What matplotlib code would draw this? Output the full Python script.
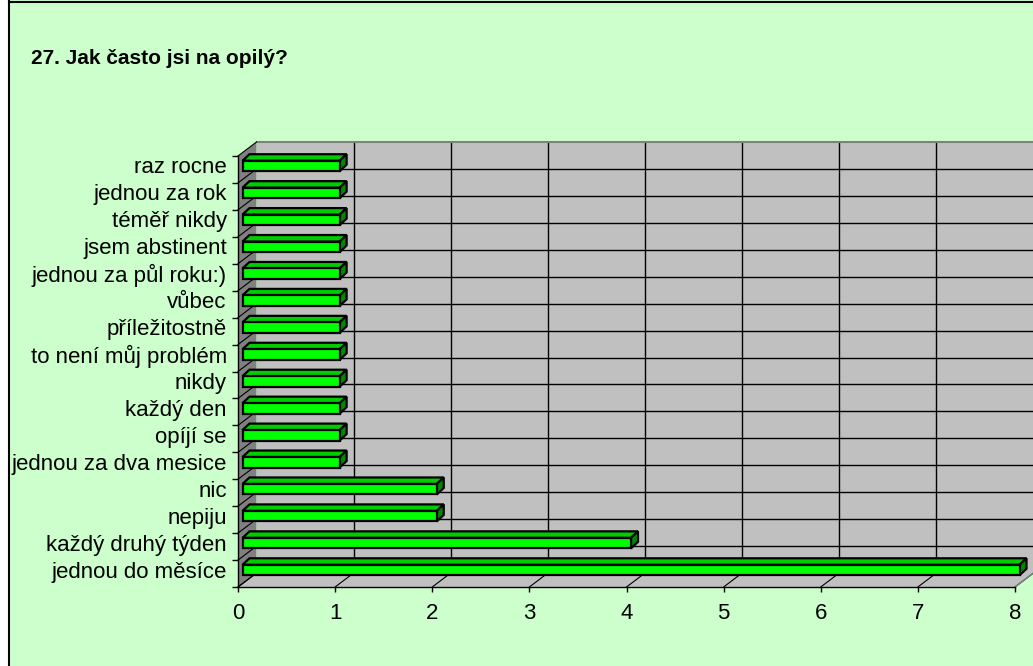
import matplotlib
matplotlib.use('Agg')
import matplotlib.pyplot as plt
import matplotlib.transforms as mtransforms
from matplotlib.patches import Polygon, Rectangle
import numpy as np

plt.rcParams['font.family'] = ['Liberation Sans', 'DejaVu Sans']

# categories listed bottom to top
categories = ['jednou do měsíce', 'každý druhý týden', 'nepiju', 'nic',
              'jednou za dva mesice', 'opíjí se', 'každý den', 'nikdy',
              'to není můj problém', 'příležitostně', 'vůbec',
              'jednou za půl roku:)', 'jsem abstinent', 'téměř nikdy',
              'jednou za rok', 'raz rocne']
values = [8, 4, 2, 2, 1, 1, 1, 1, 1, 1, 1, 1, 1, 1, 1, 1]
xticks = [0, 1, 2, 3, 4, 5, 6, 7, 8]
title = '27. Jak často jsi na opilý?'

W, H = 1033, 666
fig = plt.figure(figsize=(W / 100, H / 100), dpi=100, facecolor='#CCFFCC')
ax = fig.add_axes([238 / W, 1 - 587 / H, (1015 - 238) / W, (587 - 156) / H])
n = len(categories)
ax.set_xlim(0, xticks[-1])
ax.set_ylim(0, n)
ax.patch.set_visible(False)
for s in ax.spines.values():
    s.set_visible(False)

# pixel -> data unit conversion
px = ax.bbox.width / xticks[-1]
py = ax.bbox.height / n


def d(dx, dy):
    return dx / px, dy / py


wx, wy = d(18.5, 14)   # wall depth
bx, by = d(4.5, 3.5)   # bar front offset
tx, ty = d(7, 6.5)     # bar depth
bh = 10.5 / py         # bar height

kw = dict(clip_on=False)
xmax = xticks[-1]

# back wall, left wall, floor
ax.add_patch(Rectangle((wx, wy), xmax, n, fc='#C0C0C0', ec='none', zorder=0, **kw))
ax.add_patch(Polygon([(0, 0), (wx, wy), (wx, n + wy), (0, n)],
                     fc='#808080', ec='none', zorder=0, **kw))
ax.add_patch(Polygon([(0, 0), (xmax, 0), (xmax + wx, wy), (wx, wy)],
                     fc='#C0C0C0', ec='none', zorder=0, **kw))

# grid on walls
for k in xticks[1:-1]:
    ax.plot([k + wx, k + wx], [wy, n + wy], color='black', lw=1, zorder=1, **kw)
for j in range(1, n):
    ax.plot([wx, xmax + wx], [j + wy, j + wy], color='black', lw=1, zorder=1, **kw)
ax.plot([wx, xmax + wx], [n + wy, n + wy], color='#808080', lw=1.5, zorder=1, **kw)
for j in range(n + 1):
    ax.plot([0, wx], [j, j + wy], color='black', lw=0.8, zorder=1, **kw)
for k in xticks:
    ax.plot([k, k + wx], [0, wy], color='black', lw=0.8, zorder=1, **kw)
ax.plot([xmax, xmax + wx], [0, wy], color='#808080', lw=1, zorder=1, **kw)
ax.plot([0, 0], [0, n], color='black', lw=1, zorder=1, **kw)
ax.plot([0, xmax], [0, 0], color='black', lw=1, zorder=1, **kw)

# 3D bars
for i, v in enumerate(values):
    x0 = bx
    y0 = i + 0.5 - bh / 2 + by
    face = dict(ec='black', lw=1.6, joinstyle='miter', zorder=3, **kw)
    ax.add_patch(Polygon([(x0, y0 + bh), (x0 + v, y0 + bh),
                          (x0 + v + tx, y0 + bh + ty), (x0 + tx, y0 + bh + ty)],
                         fc='#00CC00', **face))
    ax.add_patch(Polygon([(x0 + v, y0), (x0 + v + tx, y0 + ty),
                          (x0 + v + tx, y0 + bh + ty), (x0 + v, y0 + bh)],
                         fc='#008800', **face))
    ax.add_patch(Rectangle((x0, y0), v, bh, fc='#00FF00', **face))

ax.set_xticks(xticks)
ax.set_xticklabels([str(t) for t in xticks], fontsize=16)
ax.tick_params(axis='x', length=3.6, width=1, pad=8)
ax.set_yticks(np.arange(n) + 0.5)
ax.set_yticklabels(categories, fontsize=16)
ax.set_yticks(np.arange(n + 1), minor=True)
ax.tick_params(axis='y', which='major', length=0, pad=8)
ax.tick_params(axis='y', which='minor', length=4.5, width=1)
ax.tick_params(axis='x', which='minor', length=0)
shift = mtransforms.ScaledTranslation(0, 4 / 100, fig.dpi_scale_trans)
for lab in ax.get_yticklabels():
    lab.set_transform(lab.get_transform() + shift)

fig.text(31 / W, 1 - 58 / H, title, fontsize=15, fontweight='bold', va='center')

# white strip and border on the left and top only
fig.add_artist(Rectangle((0, 0), 8 / W, 1, transform=fig.transFigure,
                         fc='white', ec='none'))
fig.add_artist(plt.Line2D([8.5 / W, 8.5 / W], [0, 1 - 1 / H], transform=fig.transFigure,
                          color='black', lw=1.5))
fig.add_artist(plt.Line2D([8.5 / W, 1], [1 - 1.5 / H, 1 - 1.5 / H],
                          transform=fig.transFigure, color='black', lw=1.5))

fig.savefig('out.png', dpi=100, facecolor=fig.get_facecolor())
